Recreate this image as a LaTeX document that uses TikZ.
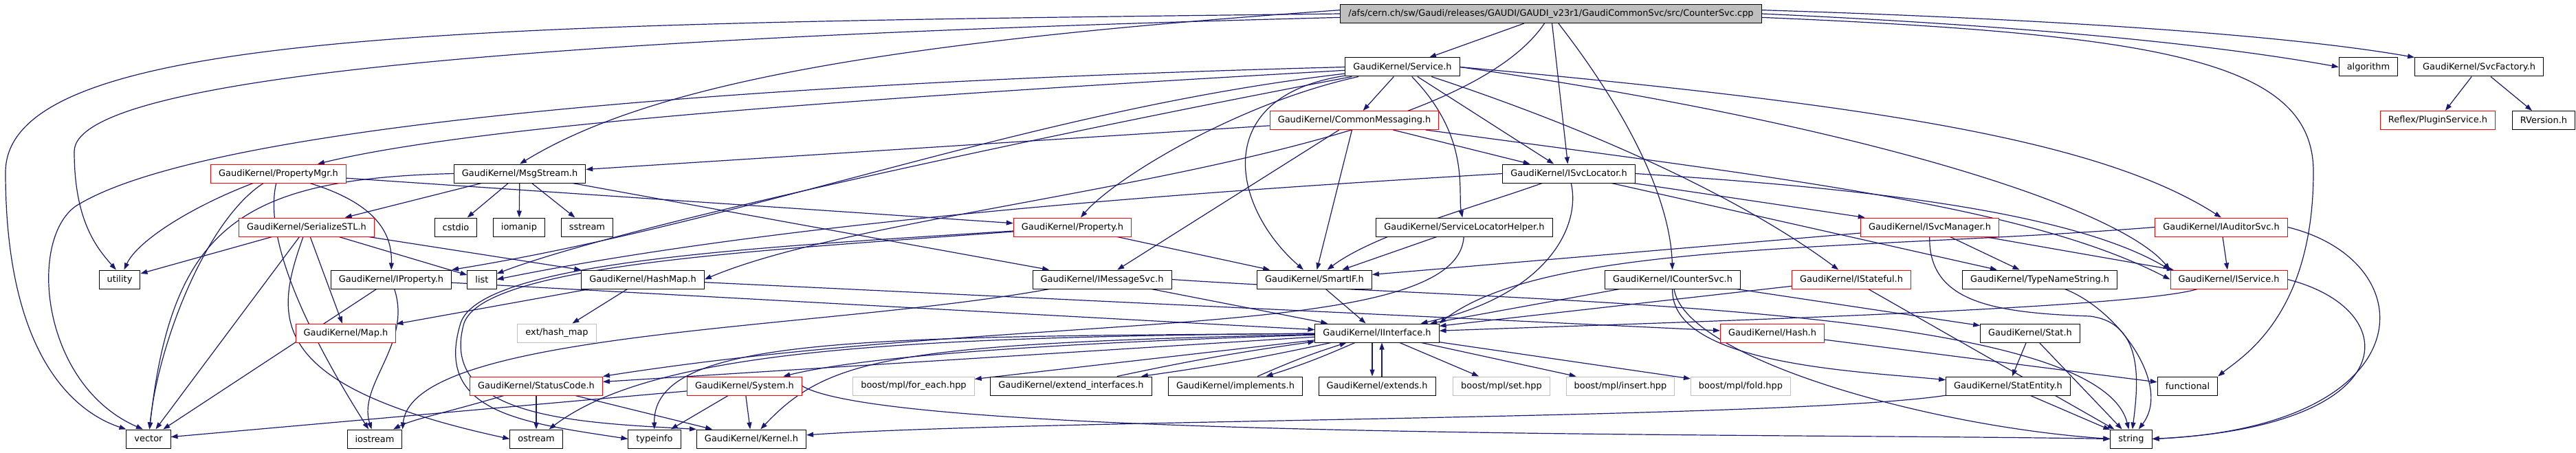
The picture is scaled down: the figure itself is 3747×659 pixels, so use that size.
\documentclass[tikz,border=0pt]{standalone}
\usepackage{fontspec}
\newfontfamily\dvsans{DejaVu Sans}
\usetikzlibrary{arrows.meta}
\definecolor{edgeblue}{HTML}{191970}
\definecolor{boxgrey}{HTML}{BFBFBF}
\pgfdeclarelayer{edges}
\pgfsetlayers{edges,main}
\tikzset{
  hdr/.style={draw=black, fill=white, line width=1bp, minimum height=27bp,
    inner xsep=11.5bp, inner ysep=0pt, font=\dvsans\fontsize{13}{15}\selectfont},
  hdrred/.style={hdr, draw=red},
  hdrsys/.style={hdr, draw=boxgrey},
  hdrroot/.style={hdr, fill=boxgrey},
  inc/.style={edgeblue, line width=1.2bp, -{Triangle[length=10bp,width=7bp]}},
}

\begin{document}
\begin{tikzpicture}[x=1bp, y=-1bp]
    \useasboundingbox (0,0) rectangle (3747,659);
    % files
    \node[hdrroot] (cpp) at (2256,20) {/afs/cern.ch/sw/Gaudi/releases/GAUDI/GAUDI\_v23r1/GaudiCommonSvc/src/CounterSvc.cpp};
    \node[hdr] (svc) at (2040,97.5) {GaudiKernel/Service.h};
    \node[hdr] (algo) at (3445,97.5) {algorithm};
    \node[hdr] (svcfac) at (3606,97.5) {GaudiKernel/SvcFactory.h};
    \node[hdrred] (cmsg) at (1970,175) {GaudiKernel/CommonMessaging.h};
    \node[hdrred] (plugin) at (3546,175) {Reflex/PluginService.h};
    \node[hdr] (rver) at (3700,175) {RVersion.h};
    \node[hdrred] (pmgr) at (405,252.5) {GaudiKernel/PropertyMgr.h};
    \node[hdr] (msg) at (756,252.5) {GaudiKernel/MsgStream.h};
    \node[hdr] (isl) at (2282,252.5) {GaudiKernel/ISvcLocator.h};
    \node[hdrred] (sstl) at (446,330.5) {GaudiKernel/SerializeSTL.h};
    \node[hdr] (cstdio) at (663,330.5) {cstdio};
    \node[hdr] (iomanip) at (755,330.5) {iomanip};
    \node[hdr] (sstream) at (854,330.5) {sstream};
    \node[hdrred] (prop) at (1560,330.5) {GaudiKernel/Property.h};
    \node[hdr] (slh) at (2130,330.5) {GaudiKernel/ServiceLocatorHelper.h};
    \node[hdrred] (ism) at (2807,330.5) {GaudiKernel/ISvcManager.h};
    \node[hdrred] (iaud) at (3231,330.5) {GaudiKernel/IAuditorSvc.h};
    \node[hdr] (util) at (174,406.5) {utility};
    \node[hdr] (iprop) at (569,406.5) {GaudiKernel/IProperty.h};
    \node[hdr] (list) at (701,406.5) {list};
    \node[hdr] (hmap) at (935,406.5) {GaudiKernel/HashMap.h};
    \node[hdr] (imsg) at (1603,406.5) {GaudiKernel/IMessageSvc.h};
    \node[hdr] (smartif) at (1912,406.5) {GaudiKernel/SmartIF.h};
    \node[hdr] (ics) at (2433,406.5) {GaudiKernel/ICounterSvc.h};
    \node[hdrred] (istate) at (2693,406.5) {GaudiKernel/IStateful.h};
    \node[hdr] (tns) at (2967,406.5) {GaudiKernel/TypeNameString.h};
    \node[hdrred] (isvc) at (3242,406.5) {GaudiKernel/IService.h};
    \node[hdrred] (map) at (503,484.5) {GaudiKernel/Map.h};
    \node[hdrsys] (exthm) at (810,484.5) {ext/hash\_map};
    \node[hdr] (iif) at (2003,484.5) {GaudiKernel/IInterface.h};
    \node[hdrred] (hash) at (2578,484.5) {GaudiKernel/Hash.h};
    \node[hdr] (stat) at (2953,484.5) {GaudiKernel/Stat.h};
    \node[hdrred] (sc) at (780,561.5) {GaudiKernel/StatusCode.h};
    \node[hdrred] (sys) at (1083,561.5) {GaudiKernel/System.h};
    \node[hdrsys] (foreach) at (1329,561.5) {boost/mpl/for\_each.hpp};
    \node[hdr] (extif) at (1558,561.5) {GaudiKernel/extend\_interfaces.h};
    \node[hdr] (impl) at (1797,561.5) {GaudiKernel/implements.h};
    \node[hdr] (extends) at (2003,561.5) {GaudiKernel/extends.h};
    \node[hdrsys] (mset) at (2184,561.5) {boost/mpl/set.hpp};
    \node[hdrsys] (minsert) at (2357,561.5) {boost/mpl/insert.hpp};
    \node[hdrsys] (mfold) at (2532,561.5) {boost/mpl/fold.hpp};
    \node[hdr] (statent) at (2921,561.5) {GaudiKernel/StatEntity.h};
    \node[hdr] (func) at (3182,561.5) {functional};
    \node[hdr] (vec) at (216,638.5) {vector};
    \node[hdr] (iostr) at (545,638.5) {iostream};
    \node[hdr] (ostr) at (780,638.5) {ostream};
    \node[hdr] (tinfo) at (952,638.5) {typeinfo};
    \node[hdr] (kernel) at (1093,638.5) {GaudiKernel/Kernel.h};
    \node[hdr] (str) at (3100,638.5) {string};
    % includes
    \begin{pgfonlayer}{edges}
    \draw[inc] (cpp) -- (svc);
    \draw[inc] (cpp.0) .. controls (3000,40) and (3250,70) .. (algo.west);
    \draw[inc] (cpp.1) .. controls (3050,30) and (3350,55) .. (svcfac.north west);
    \draw[inc] (cpp.179) .. controls (1300,60) and (950,120) .. (msg.north);
    \draw[inc] (cpp) -- (isl);
    \draw[inc] (cpp) .. controls (2380,180) and (2430,300) .. (ics);
    \draw[inc] (cpp) .. controls (2100,250) and (1300,290) .. (hmap.east);
    \draw[inc] (cpp.359) .. controls (3150,50) and (3365,90) .. (3365,250) .. controls (3365,460) and (3260,520) .. (func.north east);
    \draw[inc] (cpp.180) .. controls (700,35) and (10,40) .. (8,250) .. controls (8,520) and (110,600) .. (vec.north west);
    \draw[inc] (cpp.181) .. controls (800,55) and (110,110) .. (108,220) .. controls (108,320) and (140,360) .. (util.110);
    \draw[inc] (svc) -- (cmsg);
    \draw[inc] (svc) .. controls (1300,140) and (700,180) .. (pmgr);
    \draw[inc] (svc) -- (isl);
    \draw[inc] (svc) .. controls (2140,200) and (2120,280) .. (slh);
    \draw[inc] (svc) .. controls (2350,200) and (2550,300) .. (istate);
    \draw[inc] (svc.east) .. controls (2700,150) and (3050,200) .. (iaud.north);
    \draw[inc] (svc.east) .. controls (2700,180) and (3080,300) .. (isvc.north west);
    \draw[inc] (svc) .. controls (1800,150) and (1620,260) .. (prop);
    \draw[inc] (svc) .. controls (1500,160) and (1100,320) .. (iprop.north east);
    \draw[inc] (svc) .. controls (1760,140) and (1790,300) .. (smartif);
    \draw[inc] (svc.west) .. controls (1100,120) and (300,180) .. (110,300) .. controls (40,350) and (60,560) .. (vec.120);
    \draw[inc] (svc) .. controls (1500,200) and (900,330) .. (list);
    \draw[inc] (svcfac) -- (plugin);
    \draw[inc] (svcfac) -- (rver);
    \draw[inc] (cmsg) -- (msg);
    \draw[inc] (cmsg) -- (isl);
    \draw[inc] (cmsg) .. controls (2600,260) and (2950,300) .. (isvc.west);
    \draw[inc] (cmsg) -- (imsg);
    \draw[inc] (cmsg) -- (smartif);
    \draw[inc] (pmgr) -- (prop);
    \draw[inc] (pmgr) .. controls (560,300) and (570,350) .. (iprop);
    \draw[inc] (pmgr) .. controls (280,300) and (200,350) .. (util);
    \draw[inc] (pmgr) .. controls (300,320) and (230,500) .. (vec);
    \draw[inc] (pmgr) .. controls (380,360) and (470,520) .. (iostr);
    \draw[inc] (msg) -- (sstl);
    \draw[inc] (msg) -- (cstdio);
    \draw[inc] (msg) -- (iomanip);
    \draw[inc] (msg) -- (sstream);
    \draw[inc] (msg) -- (imsg);
    \draw[inc] (msg.west) .. controls (350,260) and (250,330) .. (vec);
    \draw[inc] (isl) .. controls (2150,300) and (2000,340) .. (smartif);
    \draw[inc] (isl) .. controls (2300,330) and (2250,430) .. (iif);
    \draw[inc] (isl) -- (ism);
    \draw[inc] (isl.east) .. controls (2650,270) and (3000,300) .. (isvc.north west);
    \draw[inc] (isl) -- (tns);
    \draw[inc] (isl.west) .. controls (1900,270) and (1200,310) .. (list.east);
    \draw[inc] (sstl) -- (util);
    \draw[inc] (sstl) -- (vec);
    \draw[inc] (sstl) -- (list);
    \draw[inc] (sstl) -- (map);
    \draw[inc] (sstl) -- (hmap);
    \draw[inc] (sstl) .. controls (400,460) and (380,560) .. (ostr.west);
    \draw[inc] (prop) -- (smartif);
    \draw[inc] (prop) .. controls (1100,365) and (705,385) .. (675,470) .. controls (635,610) and (850,615) .. (kernel.north west);
    \draw[inc] (prop) .. controls (1100,360) and (700,380) .. (670,470) .. controls (630,600) and (760,615) .. (tinfo.west);
    \draw[inc] (slh) -- (smartif);
    \draw[inc] (slh) .. controls (2120,500) and (1500,450) .. (sc.north east);
    \draw[inc] (ism) -- (tns);
    \draw[inc] (ism) -- (isvc);
    \draw[inc] (ism) -- (smartif);
    \draw[inc] (ism) .. controls (2805,440) and (2900,455) .. (3040,460) .. controls (3120,470) and (3110,560) .. (str);
    \draw[inc] (iaud) -- (isvc);
    \draw[inc] (iaud.east) .. controls (3530,380) and (3530,620) .. (str.east);
    \draw[inc] (iaud.west) .. controls (2700,365) and (2250,350) .. (iif.north east);
    \draw[inc] (iprop) -- (iif);
    \draw[inc] (iprop) -- (vec);
    \draw[inc] (iprop) .. controls (600,500) and (520,560) .. (iostr);
    \draw[inc] (hmap) -- (map);
    \draw[inc] (hmap) -- (exthm);
    \draw[inc] (hmap) -- (hash);
    \draw[inc] (imsg) -- (iif);
    \draw[inc] (imsg) .. controls (1200,480) and (600,480) .. (iostr.north east);
    \draw[inc] (imsg.east) .. controls (2200,440) and (3050,440) .. (str);
    \draw[inc] (smartif) -- (iif);
    \draw[inc] (ics) -- (iif);
    \draw[inc] (ics) -- (stat);
    \draw[inc] (ics) .. controls (2430,530) and (2700,540) .. (statent);
    \draw[inc] (ics) .. controls (2450,520) and (2800,620) .. (str.west);
    \draw[inc] (istate) -- (iif);
    \draw[inc] (istate) -- (str);
    \draw[inc] (tns) .. controls (3080,450) and (3160,560) .. (str);
    \draw[inc] (isvc) .. controls (3100,450) and (2400,470) .. (iif);
    \draw[inc] (isvc.east) .. controls (3500,450) and (3500,620) .. (str.east);
    \draw[inc] (iif) .. controls (1300,500) and (1205,520) .. (kernel);
    \draw[inc] (iif) .. controls (1500,500) and (1250,520) .. (sys);
    \draw[inc] (iif) -- (sc);
    \draw[inc] (iif) .. controls (1250,490) and (950,490) .. (tinfo);
    \draw[inc] (iif) .. controls (1300,490) and (950,510) .. (ostr);
    \draw[inc] (iif) -- (foreach);
    \draw[inc] (iif) -- (mset);
    \draw[inc] (iif) -- (minsert);
    \draw[inc] (iif) -- (mfold);
    \draw[inc] ([xshift=-7bp]iif.south) -- ([xshift=-7bp]extends.north);
    \draw[inc] ([xshift=7bp]extends.north) -- ([xshift=7bp]iif.south);
    \draw[inc] (iif) to[bend left=3] (impl);
    \draw[inc] (impl) to[bend left=3] (iif);
    \draw[inc] (iif) to[bend left=2] (extif);
    \draw[inc] (extif) to[bend left=2] (iif);
    \draw[inc] (hash) -- (func);
    \draw[inc] (stat) -- (statent);
    \draw[inc] (stat) -- (str);
    \draw[inc] (statent) -- (str);
    \draw[inc] (statent) .. controls (2600,610) and (1500,610) .. (kernel);
    \draw[inc] (sc) -- (ostr);
    \draw[inc] (sc) -- (kernel);
    \draw[inc] (sc) .. controls (650,600) and (600,610) .. (iostr);
    \draw[inc] (sys) -- (kernel);
    \draw[inc] (sys) -- (tinfo);
    \draw[inc] (sys) -- (vec);
    \draw[inc] (sys.east) .. controls (1300,640) and (2600,630) .. (str.west);
    \end{pgfonlayer}
\end{tikzpicture}
\end{document}
